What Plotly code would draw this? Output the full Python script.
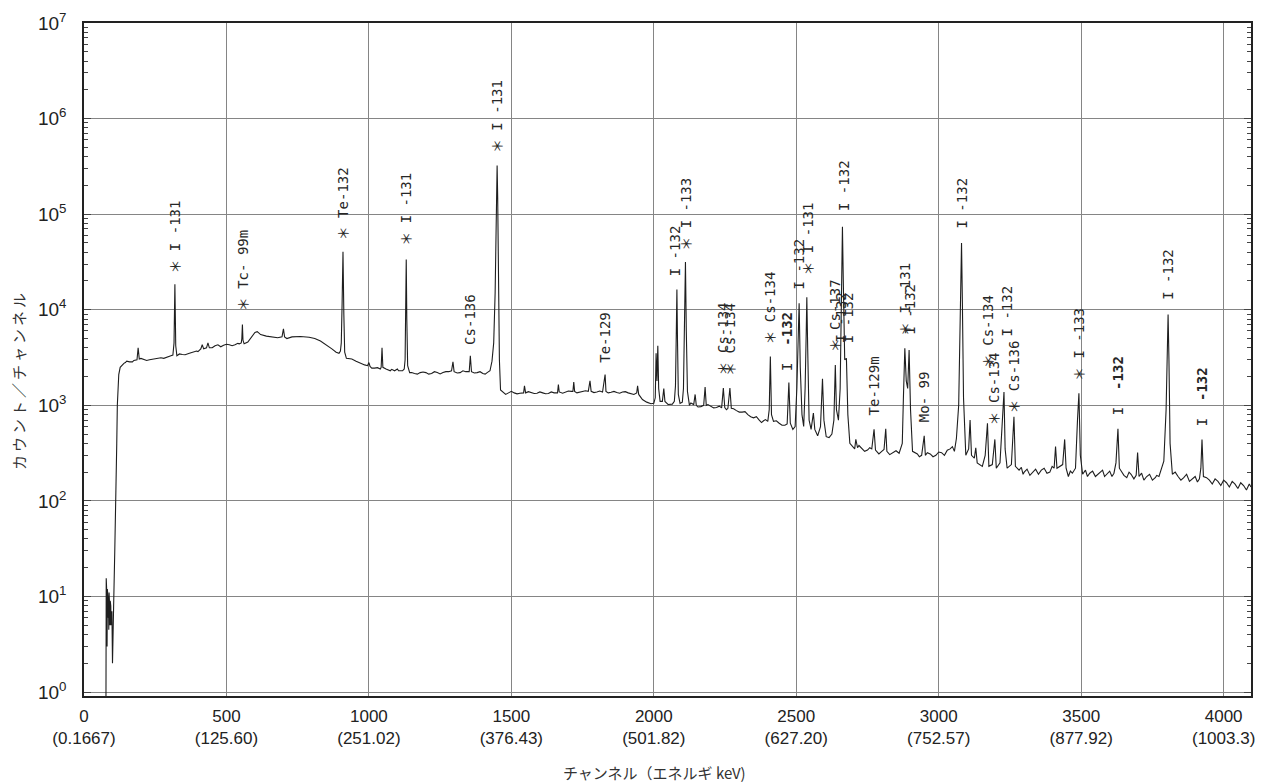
import numpy as np
import plotly.graph_objects as go

# ---- spectrum (channel, counts per channel) ----
spec_channel = [
    77, 78, 79, 80, 81, 82, 83, 84, 85, 86, 87, 88, 89, 90, 91, 92, 93, 94, 95, 96, 97, 98, 100, 102,
    104, 108, 112, 115, 117, 119, 122, 127, 133, 145, 160, 175, 186, 190, 194, 210, 230, 250, 270, 290, 305,
    312, 316, 319, 322, 326,
    345, 370, 395, 410, 415, 420, 430, 435, 440, 455, 470, 490, 510, 530, 545, 552,
    554, 556, 558, 562, 575, 590, 600, 608, 620, 640, 660, 680, 695, 700, 704, 712, 730, 760, 790, 810,
    830, 850, 870, 885, 895, 900,
    903, 906, 909, 912, 915, 921, 940, 955, 970, 985, 995, 1000, 1004, 1020, 1040,
    1043, 1046, 1049, 1060, 1075, 1090, 1100, 1104, 1118, 1124,
    1127, 1129, 1131, 1133, 1136, 1143, 1160, 1180, 1200, 1220, 1240, 1260, 1280, 1290,
    1295, 1299, 1320, 1340, 1352, 1356, 1360, 1380, 1400, 1415, 1425,
    1432, 1438, 1443, 1446, 1448, 1450, 1452, 1455, 1458, 1462, 1470, 1490, 1510, 1530, 1543, 1546, 1550,
    1570, 1590, 1610, 1630, 1650, 1662, 1665, 1668, 1690, 1710, 1716, 1719, 1722, 1745, 1770, 1776, 1780,
    1800, 1820, 1829, 1832, 1850, 1870, 1890, 1910, 1930, 1940, 1943, 1947, 1960, 1975, 1990, 2000,
    2005, 2008, 2011, 2014, 2017, 2022, 2030, 2035, 2039, 2050, 2065, 2072,
    2076, 2079, 2081, 2083, 2086, 2092, 2100, 2104,
    2108, 2111, 2114, 2118, 2125, 2140, 2145, 2149, 2165, 2175, 2180, 2184, 2200, 2220, 2238, 2244, 2249,
    2260, 2267, 2272, 2290, 2310, 2330, 2350, 2370, 2385, 2400,
    2405, 2409, 2413, 2420, 2440, 2460, 2468,
    2474, 2479, 2488, 2496, 2502,
    2506, 2510, 2514, 2520, 2526, 2531,
    2535, 2537, 2540, 2545, 2552, 2560, 2565, 2575, 2585,
    2592, 2597, 2605, 2615, 2625, 2632,
    2637, 2641, 2648,
    2654, 2658, 2662, 2665, 2670, 2676, 2681, 2688, 2697, 2709, 2715, 2730, 2750, 2765, 2773, 2778, 2800,
    2814, 2818, 2840, 2861, 2872,
    2876, 2881, 2886, 2891, 2896, 2901, 2908, 2925, 2940, 2949, 2953, 2970, 2990, 3010, 3030, 3048, 3062,
    3070, 3075, 3078, 3080, 3083, 3087, 3095, 3105, 3110, 3115, 3125, 3130, 3135, 3153, 3163,
    3171, 3176, 3188, 3197, 3202, 3215, 3222,
    3226, 3229, 3233, 3240, 3255, 3264, 3269, 3282, 3300, 3330, 3360, 3390, 3405, 3410, 3415, 3435, 3442,
    3447, 3469, 3480,
    3487, 3492, 3497, 3505, 3530, 3562, 3590, 3615, 3622,
    3629, 3634, 3650, 3675, 3693, 3698, 3703, 3730, 3760, 3773, 3790,
    3798, 3802, 3805, 3808, 3812, 3820, 3840, 3860, 3890, 3915,
    3920, 3924, 3929, 3950, 3980, 4010, 4040, 4070, 4096,
]
spec_counts = [
    0.6, 15.5, 4, 11, 3, 12, 5, 10, 6, 9, 4.5, 11, 6, 8, 5, 9, 6, 8, 5, 7, 5.5, 7, 2, 7.5,
    8, 30, 100, 400, 1000, 1600, 2100, 2500, 2650, 2800, 2850, 2950, 3000, 4000, 3050, 3050, 3000, 3100, 3150, 3200, 3300,
    3350, 4500, 18500, 4200, 3300,
    3400, 3500, 3700, 3900, 4300, 3900, 4000, 4500, 4000, 4100, 4300, 4250, 4300, 4300, 4400, 4500,
    5000, 7000, 4800, 4400, 4600, 5200, 5800, 5900, 5500, 5300, 5200, 5100, 5200, 6300, 5200, 5000, 5200, 5250, 5150, 5000,
    4700, 4300, 3900, 3600, 3500, 3700,
    4500, 12000, 40500, 9000, 3600, 3100, 3050, 2900, 2750, 2650, 2600, 2800, 2550, 2450, 2400,
    2500, 4000, 2500, 2400, 2300, 2300, 2400, 2300, 2300, 2400,
    3000, 9000, 33500, 8000, 2600, 2200, 2150, 2200, 2200, 2150, 2200, 2200, 2250, 2300,
    2850, 2250, 2200, 2250, 2250, 3300, 2250, 2200, 2150, 2200, 2300,
    2900, 4500, 15000, 90000, 200000, 323000, 150000, 20000, 3000, 1450, 1380, 1350, 1350, 1340, 1350, 1600, 1350,
    1360, 1340, 1350, 1330, 1350, 1350, 1650, 1380, 1380, 1400, 1400, 1750, 1400, 1380, 1400, 1800, 1400,
    1380, 1380, 2100, 1400, 1370, 1360, 1380, 1350, 1300, 1350, 1600, 1300, 1150, 1080, 1040, 1050,
    1200, 3500, 1800, 4200, 1500, 1100, 1100, 1500, 1100, 1020, 1030, 1100,
    1600, 6000, 16300, 5000, 1300, 1050, 1080, 1500,
    8000, 31500, 6000, 1400, 1000, 1020, 1300, 1000, 970, 1000, 1550, 1000, 980, 950, 940, 1520, 950,
    930, 1520, 930, 880, 850, 800, 740, 700, 690, 680,
    900, 3250, 800, 680, 650, 620, 640,
    1730, 650, 560, 600, 1500,
    5000, 11700, 2500, 800, 600, 1500,
    6000, 13500, 4000, 700, 560, 830, 560, 480, 600,
    1900, 700, 470, 460, 500, 700,
    2640, 900, 700,
    1500, 10000, 74000, 20000, 3000, 3100, 800, 400, 370, 440, 360, 350, 340, 350, 560, 340, 330,
    570, 330, 320, 315, 400,
    1200, 3950, 1800, 1500, 3800, 900, 330, 310, 300, 480, 300, 310, 300, 320, 340, 370, 450,
    1000, 5000, 25000, 50000, 12000, 1200, 300, 350, 700, 300, 280, 360, 250, 230, 300,
    650, 230, 240, 440, 220, 250, 600,
    1100, 1380, 350, 220, 240, 760, 230, 210, 200, 200, 210, 200, 220, 370, 220, 240, 440,
    220, 195, 220,
    700, 1340, 300, 190, 195, 195, 190, 195, 250,
    570, 220, 185, 190, 185, 320, 180, 180, 175, 180, 260,
    900, 4000, 8900, 3000, 400, 190, 180, 175, 170, 170,
    220, 440, 180, 165, 160, 155, 150, 145, 140,
]

# ---- small fluctuations of the continuum ----
ripple_channel = [
    140, 150, 170, 200, 220, 240, 260, 280, 300, 335, 355, 380, 400, 450, 460, 480, 500, 520, 540,
    1010, 1030, 1065, 1080, 1150, 1170, 1190, 1210, 1230, 1250, 1270, 1310, 1330, 1370, 1390, 1408,
    1480, 1500, 1520, 1560, 1580, 1600, 1620, 1640, 1680, 1700, 1730, 1760, 1790, 1810, 1840, 1860, 1880, 1900, 1920,
    2130, 2155, 2190, 2210, 2230, 2255, 2280, 2300, 2320, 2340, 2360, 2378, 2392, 2430, 2450,
    2705, 2720, 2740, 2758, 2790, 2808, 2828, 2850,
    2915, 2932, 2960, 2980, 3000, 3020, 3040, 3055,
    3290, 3296, 3310, 3320, 3340, 3350, 3370, 3380, 3398, 3425, 3455, 3462,
    3515, 3522, 3540, 3550, 3575, 3582, 3600, 3608,
    3642, 3660, 3668, 3685, 3712, 3720, 3740, 3750, 3765,
    3830, 3850, 3870, 3880, 3900, 3908,
    3940, 3960, 3970, 3990, 4000, 4020, 4030, 4050, 4060, 4080, 4090,
]
ripple_counts = [
    2750, 2900, 2850, 3100, 2950, 3050, 3150, 3100, 3250, 3450, 3380, 3600, 3650, 4000, 4200, 4100, 4350, 4200, 4450,
    2450, 2480, 2350, 2380, 2200, 2120, 2230, 2120, 2250, 2130, 2250, 2180, 2300, 2180, 2250, 2120,
    1300, 1400, 1320, 1390, 1330, 1380, 1320, 1380, 1340, 1410, 1350, 1420, 1360, 1410, 1350, 1400, 1340, 1390, 1320,
    1060, 960, 1020, 940, 980, 900, 920, 850, 860, 760, 760, 660, 710, 690, 620,
    350, 380, 330, 360, 310, 345, 305, 335,
    320, 290, 320, 290, 325, 300, 350, 330,
    225, 190, 215, 185, 215, 190, 220, 195, 230, 230, 180, 205,
    210, 180, 205, 180, 210, 180, 205, 180,
    200, 175, 200, 170, 195, 165, 190, 165, 185,
    200, 165, 190, 160, 180, 158,
    175, 150, 170, 145, 165, 140, 160, 135, 155, 130, 150,
]

# ---- nuclide labels: text, channel, counts at the foot of the label ----
label_text = [
    "＊ I -131", "＊ Tc- 99m", "＊ Te-132", "＊ I -131", "Cs-136", "＊ I -131",
    "Te-129", "I -132", "＊ I -133", "＊ Cs-134", "＊ Cs-134", "＊ Cs-134",
    "I  <b>-132</b>", "I -132", "＊ I -131", "＊ Cs-137", "I -132", "I -132", "I -132",
    "Te-129m", "＊ I -131", "I -132", "Mo- 99",
    "I -132", "＊ Cs-134", "＊ Cs-134", "I -132", "＊ Cs-136", "＊ I -133",
    "I  <b>-132</b>", "I -132", "I  <b>-132</b>",
]
label_channel = [
    319, 558, 908, 1132, 1357, 1452,
    1829, 2077, 2113, 2244, 2267, 2409,
    2467, 2510, 2540, 2637, 2668, 2658, 2681,
    2773, 2884, 2899, 2949,
    3081, 3171, 3194, 3241, 3264, 3492,
    3629, 3805, 3927,
]
label_counts = [
    23000, 9300, 51000, 44500, 4100, 417000,
    2630, 21500, 39000, 1950, 1950, 4100,
    2200, 15400, 21800, 3400, 102000, 4300, 4300,
    740, 5100, 5300, 630,
    68000, 2330, 580, 5000, 790, 1730,
    760, 12000, 580,
]

x_tick_vals = [0, 500, 1000, 1500, 2000, 2500, 3000, 3500, 4000]
x_tick_energy = ["0.1667", "125.60", "251.02", "376.43", "501.82", "627.20", "752.57", "877.92", "1003.3"]
y_tick_vals = [1, 10, 100, 1000, 10000, 100000, 1000000, 10000000]

TS = "\u2009"
x_tick_text = [f"{v}<br>({e})" for v, e in zip(x_tick_vals, x_tick_energy)]
y_tick_text = [f"10<sup>{i}</sup>" for i in range(len(y_tick_vals))]
y_minor = [m * d for d in y_tick_vals[:-1] for m in range(2, 10)]

pts = sorted(zip(spec_channel + ripple_channel, spec_counts + ripple_counts))
line_x = [p[0] for p in pts]
line_y = [p[1] for p in pts]

fig = go.Figure()
fig.add_trace(go.Scatter(
    x=line_x, y=line_y, mode="lines",
    line=dict(color="#1e1e1e", width=1.1),
    hoverinfo="skip", showlegend=False,
))

for t, c, v in zip(label_text, label_channel, label_counts):
    fig.add_annotation(
        x=c, y=np.log10(v), xref="x", yref="y", text=t, textangle=-90,
        showarrow=False, xanchor="center", yanchor="bottom",
        font=dict(family="DejaVu Sans Mono, Noto Sans CJK JP", size=14, color="#262626"),
    )

ytitle = TS.join(list("カウント／チャンネル"))
fig.add_annotation(
    x=-0.0566, y=0.468, xref="paper", yref="paper", text=ytitle, textangle=-90,
    showarrow=False, xanchor="center", yanchor="middle",
    font=dict(family="Noto Sans CJK JP", size=15, color="#333"),
)
fig.add_annotation(
    x=0.489, y=-0.114, xref="paper", yref="paper", text="チャンネル（エネルギ keV)",
    showarrow=False, xanchor="center", yanchor="middle",
    font=dict(family="Noto Sans CJK JP", size=15, color="#333"),
)

fig.update_layout(
    width=1268, height=783,
    margin=dict(l=84, r=17, t=23, b=87, autoexpand=False),
    paper_bgcolor="white", plot_bgcolor="white",
    font=dict(family="Liberation Sans, Arial, sans-serif", size=17, color="#222"),
    xaxis=dict(
        range=[0, 4096], tickvals=x_tick_vals, ticktext=x_tick_text,
        showgrid=True, gridcolor="#858585", gridwidth=1,
        showline=True, linecolor="#222", linewidth=1.5, mirror=True,
        ticks="", zeroline=False, ticklabelstandoff=4, automargin=False,
        tickfont=dict(size=17),
    ),
    yaxis=dict(
        type="log", range=[np.log10(0.91), 7], tickvals=y_tick_vals, ticktext=y_tick_text,
        showgrid=True, gridcolor="#858585", gridwidth=1,
        showline=True, linecolor="#222", linewidth=1.5, mirror="allticks",
        ticks="inside", ticklen=7, tickcolor="#444", ticklabelstandoff=12,
        minor=dict(tickvals=y_minor, ticks="inside", ticklen=4, tickcolor="#444", showgrid=False),
        zeroline=False, automargin=False, tickfont=dict(size=19),
    ),
)

fig.write_html(
    "out.html",
    config={"displayModeBar": False},
    post_script="document.body.style.margin='0';document.body.style.overflow='hidden';",
)
